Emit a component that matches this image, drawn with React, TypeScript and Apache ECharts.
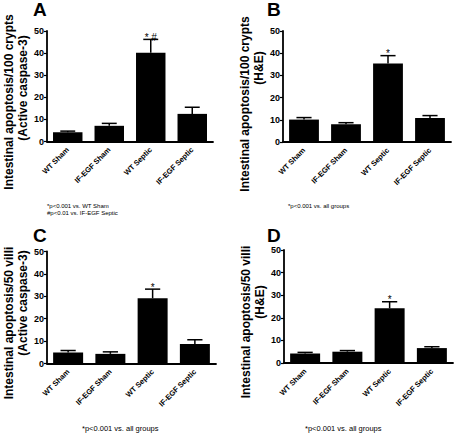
import React, { useEffect, useRef } from "react";
import * as echarts from "echarts";

const categories = ["WT Sham", "IF-EGF Sham", "WT Septic", "IF-EGF Septic"];
const yTicks = { min: 0, max: 50, interval: 10 };

const aMeans = [4.2, 7.1, 40.2, 12.5];
const aUpper = [4.7, 8.2, 46.2, 15.5];
const aMarks = ["", "", "* #", ""];

const bMeans = [10.1, 8.0, 35.4, 10.8];
const bUpper = [11.0, 8.7, 38.9, 11.9];
const bMarks = ["", "", "*", ""];

const cMeans = [4.9, 4.3, 29.1, 8.7];
const cUpper = [5.8, 5.2, 33.2, 10.6];
const cMarks = ["", "", "*", ""];

const dMeans = [4.2, 5.0, 24.2, 6.6];
const dUpper = [4.7, 5.5, 27.1, 7.2];
const dMarks = ["", "", "*", ""];

const panels = [
  { letter: "A", means: aMeans, upper: aUpper, marks: aMarks, title1: "Intestinal apoptosis/100 crypts", title2: "(Active caspase-3)", notes: ["*p<0.001 vs. WT Sham", "#p<0.01 vs. IF-EGF Septic"] },
  { letter: "B", means: bMeans, upper: bUpper, marks: bMarks, title1: "Intestinal apoptosis/100 crypts", title2: "(H&E)", notes: ["*p<0.001 vs. all groups"] },
  { letter: "C", means: cMeans, upper: cUpper, marks: cMarks, title1: "Intestinal apoptosis/50 villi", title2: "(Active caspase-3)", notes: ["*p<0.001 vs. all groups"] },
  { letter: "D", means: dMeans, upper: dUpper, marks: dMarks, title1: "Intestinal apoptosis/50 villi", title2: "(H&E)", notes: ["*p<0.001 vs. all groups"] },
];

const FONT = "Liberation Sans, Arial, sans-serif";

// layout (positions only)
const grids = [
  { left: 47, top: 31, width: 166, height: 110.5 },
  { left: 283, top: 31, width: 168, height: 111 },
  { left: 47, top: 251.5, width: 169, height: 112 },
  { left: 284, top: 250, width: 169, height: 113 },
];
const letterPos = [
  { x: 33, y: 0 },
  { x: 267, y: 0 },
  { x: 33, y: 226 },
  { x: 267, y: 226 },
];
const titlePos = [
  { x1: 9, y1: 102, x2: 23, y2: 88 },
  { x1: 245, y1: 104, x2: 259, y2: 68 },
  { x1: 9, y1: 323, x2: 23, y2: 303 },
  { x1: 246, y1: 322, x2: 260, y2: 302 },
];
const notePos = [
  { x: 47, y: 206, size: 6, gap: 7 },
  { x: 288, y: 206, size: 6, gap: 7 },
  { x: 82, y: 428, size: 7.5, gap: 8 },
  { x: 305, y: 428, size: 7.5, gap: 8 },
];

export default function App() {
  const ref = useRef<HTMLDivElement>(null);
  useEffect(() => {
    if (!ref.current) return;
    const chart = echarts.init(ref.current, null, { renderer: "svg" });

    const xAxis: any[] = [];
    const yAxis: any[] = [];
    const series: any[] = [];
    const graphic: any[] = [];

    panels.forEach((p, i) => {
      xAxis.push({
        type: "category",
        gridIndex: i,
        data: categories,
        boundaryGap: true,
        axisLine: { lineStyle: { color: "#000", width: 1.8 } },
        axisTick: { alignWithLabel: true, length: 4, lineStyle: { color: "#000", width: 1.2 } },
        axisLabel: { rotate: 45, fontSize: 7.5, fontWeight: "bold", color: "#000", fontFamily: FONT, margin: 7, interval: 0 },
        splitLine: { show: false },
      });
      yAxis.push({
        type: "value",
        gridIndex: i,
        min: yTicks.min,
        max: yTicks.max,
        interval: yTicks.interval,
        axisLine: { show: true, lineStyle: { color: "#000", width: 1.8 } },
        axisTick: { show: true, length: 3, lineStyle: { color: "#000", width: 1.2 } },
        axisLabel: { fontSize: 9, fontWeight: "bold", color: "#000", fontFamily: FONT, margin: 3 },
        splitLine: { show: false },
      });
      series.push({
        type: "bar",
        xAxisIndex: i,
        yAxisIndex: i,
        data: p.means,
        barWidth: "71%",
        itemStyle: { color: "#000" },
        silent: true,
        z: 2,
      });
      series.push({
        type: "custom",
        xAxisIndex: i,
        yAxisIndex: i,
        data: p.means.map((m, k) => [k, m, p.upper[k], k]),
        z: 3,
        renderItem: (params: any, api: any) => {
          const idx = api.value(0);
          const top = api.coord([idx, api.value(2)]);
          const base = api.coord([idx, api.value(1)]);
          const band = api.size([1, 0])[0];
          const half = band * 0.18;
          const mark = p.marks[api.value(3)];
          const children: any[] = [
            { type: "line", shape: { x1: top[0], y1: base[1], x2: top[0], y2: top[1] }, style: { stroke: "#000", lineWidth: 1.5 } },
            { type: "line", shape: { x1: top[0] - half, y1: top[1], x2: top[0] + half, y2: top[1] }, style: { stroke: "#000", lineWidth: 1.5 } },
          ];
          if (mark) {
            children.push({
              type: "text",
              x: top[0],
              y: top[1] + 3,
              style: { text: mark, fontSize: 10, fontFamily: FONT, fill: "#000", align: "center", verticalAlign: "bottom" },
            });
          }
          return { type: "group", children };
        },
      });

      const lp = letterPos[i];
      graphic.push({
        type: "text",
        left: lp.x,
        top: lp.y,
        style: { text: p.letter, fontSize: 19, fontWeight: "bold", fontFamily: FONT, fill: "#000" },
      });
      const tp = titlePos[i];
      graphic.push({
        type: "text",
        x: tp.x1,
        y: tp.y1,
        rotation: Math.PI / 2,
        style: { text: p.title1, fontSize: 12, fontWeight: "bold", fontFamily: FONT, fill: "#000", align: "center", verticalAlign: "middle" },
      });
      graphic.push({
        type: "text",
        x: tp.x2,
        y: tp.y2,
        rotation: Math.PI / 2,
        style: { text: p.title2, fontSize: 12, fontWeight: "bold", fontFamily: FONT, fill: "#000", align: "center", verticalAlign: "middle" },
      });
      const np = notePos[i];
      p.notes.forEach((n, k) => {
        graphic.push({
          type: "text",
          x: np.x,
          y: np.y + k * np.gap,
          style: { text: n, fontSize: np.size, fontFamily: FONT, fill: "#000", align: "left", verticalAlign: "middle" },
        });
      });
    });

    chart.setOption({
      animation: false,
      backgroundColor: "#fff",
      grid: grids.map((g) => ({ ...g, containLabel: false })),
      xAxis,
      yAxis,
      series,
      graphic,
    });
    return () => chart.dispose();
  }, []);
  return <div ref={ref} style={{ position: "fixed", left: 0, top: 0, width: 454, height: 435 }} />;
}
